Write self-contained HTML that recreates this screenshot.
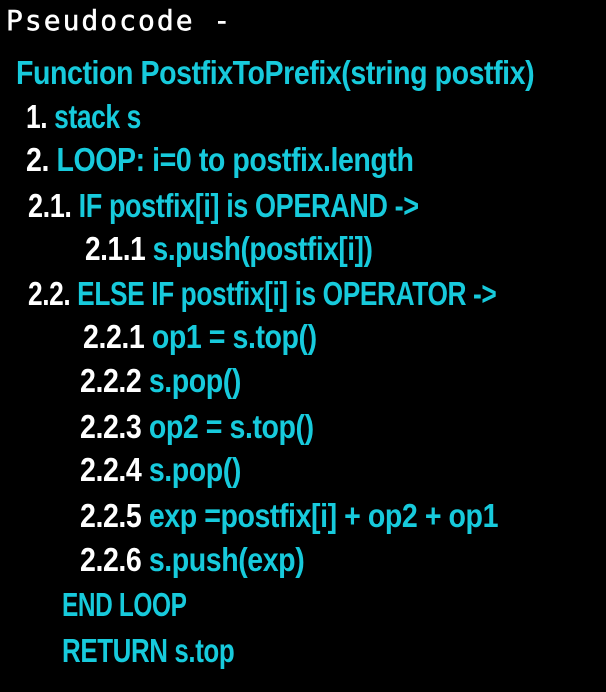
<!DOCTYPE html>
<html><head><style>
html,body{margin:0;padding:0;background:#000;width:606px;height:692px;overflow:hidden}
.l{position:absolute;white-space:nowrap;font-family:"Liberation Sans Narrow","Liberation Sans",sans-serif;font-weight:bold;font-size:33px;line-height:34px;color:#17cadc;transform-origin:0 50%;transform:scaleX(0.865);letter-spacing:-0.5px}
.w{color:#fff}
.t{position:absolute;left:6px;top:4px;font-family:"DejaVu Sans Mono","Liberation Mono",monospace;font-size:28px;line-height:34px;color:#fff;letter-spacing:2px;-webkit-text-stroke:0.5px #fff}
</style></head><body>
<div class="t">Pseudocode  -</div>
<div class="l" style="left:16px;top:56px">Function PostfixToPrefix(string postfix)</div>
<div class="l" style="left:26px;top:100px;transform:scaleX(0.8)"><span class="w">1.</span> stack s</div>
<div class="l" style="left:26px;top:143px"><span class="w">2.</span> LOOP: i=0 to postfix.length</div>
<div class="l" style="left:28px;top:189px;transform:scaleX(0.82)"><span class="w">2.1.</span> IF postfix[i] is OPERAND -&gt;</div>
<div class="l" style="left:85px;top:232px;transform:scaleX(0.85)"><span class="w">2.1.1</span> s.push(postfix[i])</div>
<div class="l" style="left:28px;top:277px;transform:scaleX(0.797)"><span class="w">2.2.</span> ELSE IF postfix[i] is OPERATOR -&gt;</div>
<div class="l" style="left:83px;top:320px"><span class="w">2.2.1</span> op1 = s.top()</div>
<div class="l" style="left:80px;top:364px"><span class="w">2.2.2</span> s.pop()</div>
<div class="l" style="left:80px;top:410px"><span class="w">2.2.3</span> op2 = s.top()</div>
<div class="l" style="left:80px;top:453px"><span class="w">2.2.4</span> s.pop()</div>
<div class="l" style="left:80px;top:499px"><span class="w">2.2.5</span> exp =postfix[i] + op2 + op1</div>
<div class="l" style="left:80px;top:543px"><span class="w">2.2.6</span> s.push(exp)</div>
<div class="l" style="left:62px;top:588px;transform:scaleX(0.74)">END LOOP</div>
<div class="l" style="left:62px;top:634px;transform:scaleX(0.785)">RETURN s.top</div>
</body></html>
